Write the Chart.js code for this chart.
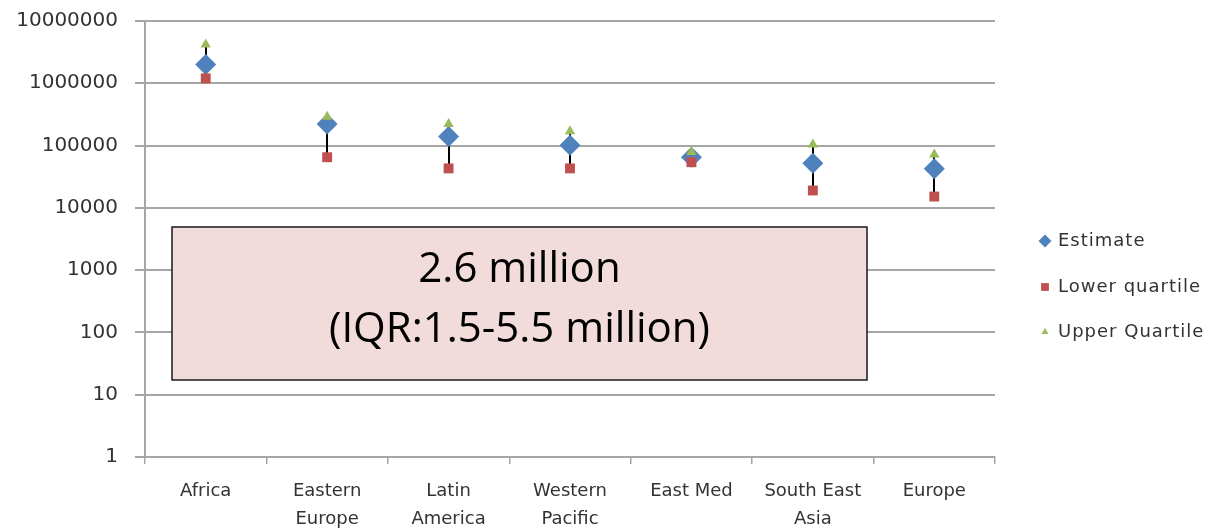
<!DOCTYPE html>
<html>
<head>
<meta charset="utf-8">
<title>Estimates by region</title>
<script src="https://cdn.jsdelivr.net/npm/chart.js@4.4.1/dist/chart.umd.min.js"></script>
<style>
    html, body { margin: 0; padding: 0; background: #fff; }
    #wrap { width: 1223px; height: 530px; }
</style>
</head>
<body>
<div id="wrap"><canvas id="myChart" width="1223" height="530"></canvas></div>
<script>
// Regions along the x axis
const regions = [
    'Africa', ['Eastern', 'Europe'], ['Latin', 'America'], ['Western', 'Pacific'],
    'East Med', ['South East', 'Asia'], 'Europe'
];
const estimate = [2000000, 223000, 140000, 101000, 65000, 52000, 42500];
const lowerQuartile = [1200000, 65000, 43000, 43000, 54000, 19000, 15200];
const upperQuartile = [4200000, 290000, 223000, 170000, 79000, 104000, 72000];
const yTicks = [1, 10, 100, 1000, 10000, 100000, 1000000, 10000000];
const boxLines = ['2.6 million', '(IQR:1.5-5.5 million)'];

const gridGrey = '#A6A6A6';
const textGrey = '#333333';

// Black whiskers from lower to upper quartile, under the markers
const errorBars = {
    id: 'errorBars',
    beforeDatasetsDraw(chart) {
        const { ctx, scales: { x, y } } = chart;
        ctx.save();
        ctx.strokeStyle = '#000';
        ctx.lineWidth = 2;
        estimate.forEach((_, i) => {
            const px = Math.round(x.getPixelForValue(i));
            ctx.beginPath();
            ctx.moveTo(px, y.getPixelForValue(lowerQuartile[i]));
            ctx.lineTo(px, y.getPixelForValue(upperQuartile[i]));
            ctx.stroke();
        });
        ctx.restore();
    }
};

// Pink summary box with the total
const totalBox = {
    id: 'totalBox',
    afterDraw(chart) {
        const ctx = chart.ctx;
        const left = 172, top = 227, w = 695, h = 153;
        ctx.save();
        ctx.fillStyle = '#F2DCDB';
        ctx.fillRect(left, top, w, h);
        ctx.strokeStyle = '#1a1a1a';
        ctx.lineWidth = 1.5;
        ctx.strokeRect(left, top, w, h);
        ctx.fillStyle = '#000';
        ctx.font = '42px "Open Sans"';
        ctx.textAlign = 'center';
        ctx.textBaseline = 'middle';
        ctx.fillText(boxLines[0], left + w / 2, 270);
        ctx.fillText(boxLines[1], left + w / 2, 330);
        ctx.restore();
    }
};

// Legend on the right, one row per series
const sideLegend = {
    id: 'sideLegend',
    afterDraw(chart) {
        const ctx = chart.ctx;
        const sizes = [6.5, 5.5, 4];
        const rows = [241, 287, 332];
        ctx.save();
        chart.data.datasets.forEach((ds, i) => {
            ctx.fillStyle = ds.pointBackgroundColor;
            Chart.helpers.drawPoint(ctx, {
                pointStyle: ds.pointStyle, radius: sizes[i], rotation: 0, borderWidth: 0
            }, 1045, rows[i]);
            ctx.fillStyle = textGrey;
            ctx.font = '18px "DejaVu Sans"';
            ctx.letterSpacing = '1px';
            ctx.textAlign = 'left';
            ctx.textBaseline = 'middle';
            ctx.fillText(ds.label, 1058, rows[i]);
        });
        ctx.restore();
    }
};

const ctx = document.getElementById('myChart').getContext('2d');
const chart = new Chart(ctx, {
    type: 'line',
    data: {
        labels: regions,
        datasets: [
            {
                label: 'Estimate',
                data: estimate,
                showLine: false,
                pointStyle: 'rectRot',
                pointRadius: 10.5,
                pointBorderWidth: 0,
                pointBackgroundColor: '#4F81BD',
                borderColor: '#4F81BD',
                order: 3
            },
            {
                label: 'Lower quartile',
                data: lowerQuartile,
                showLine: false,
                pointStyle: 'rect',
                pointRadius: 7,
                pointBorderWidth: 0,
                pointBackgroundColor: '#C0504D',
                borderColor: '#C0504D',
                order: 2
            },
            {
                label: 'Upper Quartile',
                data: upperQuartile,
                showLine: false,
                pointStyle: 'triangle',
                pointRadius: 6,
                pointBorderWidth: 0,
                pointBackgroundColor: '#9BBB59',
                borderColor: '#9BBB59',
                order: 1
            }
        ]
    },
    options: {
        responsive: false,
        devicePixelRatio: 1,
        animation: false,
        layout: { padding: { top: 21, right: 228, bottom: 0, left: 0 } },
        plugins: {
            legend: { display: false },
            tooltip: { enabled: false }
        },
        scales: {
            x: {
                offset: true,
                grid: { offset: true, drawOnChartArea: false, color: gridGrey, lineWidth: 1.5, tickLength: 7 },
                border: { color: gridGrey, width: 2 },
                ticks: {
                    font: { family: 'DejaVu Sans', size: 18, lineHeight: 1.55 },
                    color: textGrey,
                    padding: 13,
                    maxRotation: 0,
                    autoSkip: false
                },
                afterFit: s => {
                    s.height = 73;
                    s.paddingLeft = 0;
                    s.paddingRight = 0;
                }
            },
            y: {
                type: 'logarithmic',
                min: 1,
                max: 10000000,
                afterBuildTicks: s => { s.ticks = yTicks.map(v => ({ value: v })); },
                ticks: {
                    callback: v => String(v),
                    font: { family: 'DejaVu Sans', size: 20 },
                    color: textGrey,
                    padding: 17
                },
                grid: { color: gridGrey, lineWidth: 2, tickLength: 10 },
                border: { color: gridGrey, width: 2 },
                afterFit: s => {
                    s.width = 145;
                    s.paddingTop = 0;
                    s.paddingBottom = 0;
                }
            }
        }
    },
    plugins: [errorBars, totalBox, sideLegend]
});
</script>
</body>
</html>
